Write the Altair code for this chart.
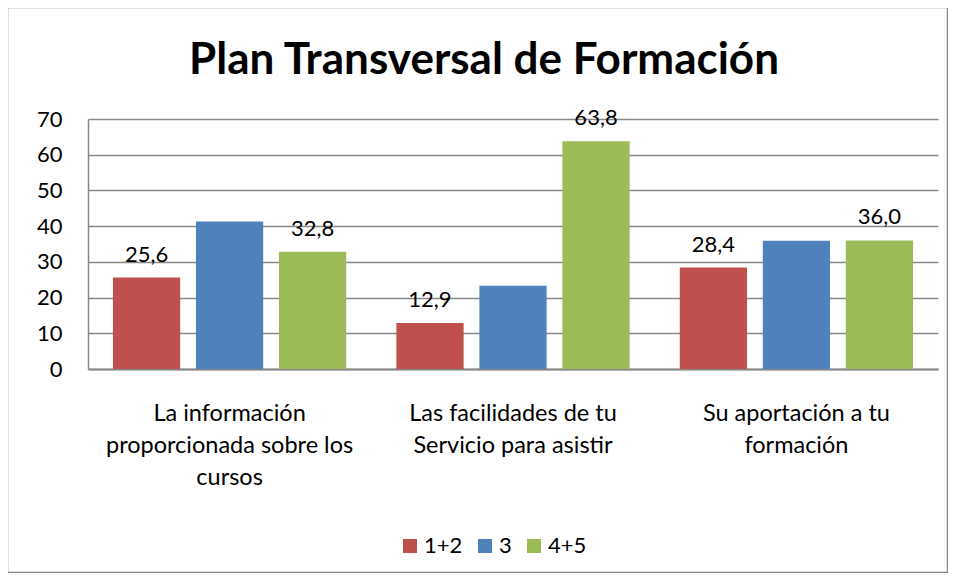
import altair as alt
import pandas as pd

title_text = "Plan Transversal de Formación"
categories = [
    "La información proporcionada sobre los cursos",
    "Las facilidades de tu Servicio para asistir",
    "Su aportación a tu formación",
]
label_lines = [
    ["La información", "proporcionada sobre los", "cursos"],
    ["Las facilidades de tu", "Servicio para asistir"],
    ["Su aportación a tu", "formación"],
]
series = ["1+2", "3", "4+5"]
values_12 = [25.6, 12.9, 28.4]
values_3 = [41.3, 23.3, 35.9]
values_45 = [32.8, 63.8, 36.0]
colors = ["#C0504D", "#4F81BD", "#9BBB59"]

rows = []
for s, vals in zip(series, [values_12, values_3, values_45]):
    for c, v in zip(categories, vals):
        rows.append({"categoria": c, "serie": s, "valor": v})
df = pd.DataFrame(rows)

# multi-line axis labels
expr = "''"
for c, lines in reversed(list(zip(categories, label_lines))):
    arr = "[" + ",".join("'" + l + "'" for l in lines) + "]"
    expr = f"datum.label == '{c}' ? {arr} : ({expr})"

FONT = "Lato"

x = alt.X(
    "categoria:N",
    sort=categories,
    title=None,
    scale=alt.Scale(paddingInner=0.177, paddingOuter=0.088),
    axis=alt.Axis(
        labelAngle=0,
        labelExpr=expr,
        labelFont=FONT,
        labelFontSize=23.5,
        labelColor="#000000",
        labelLineHeight=32,
        labelPadding=44,
        labelBaseline="middle",
        labelLimit=0,
        ticks=False,
        domainColor="#888888",
        domainWidth=2,
        grid=False,
    ),
)
xo = alt.XOffset("serie:N", sort=series, scale=alt.Scale(paddingInner=0.19, paddingOuter=0))
y = alt.Y(
    "valor:Q",
    title=None,
    scale=alt.Scale(domain=[0, 70], nice=False),
    axis=alt.Axis(
        values=[0, 10, 20, 30, 40, 50, 60, 70],
        labelFont=FONT,
        labelFontSize=22,
        labelColor="#000000",
        labelPadding=26,
        ticks=False,
        domainColor="#888888",
        domainWidth=1.5,
        gridColor="#888888",
        gridWidth=1.5,
    ),
)

bars = alt.Chart(df).mark_bar().encode(
    x=x,
    xOffset=xo,
    y=y,
    color=alt.Color(
        "serie:N",
        sort=series,
        scale=alt.Scale(domain=series, range=colors),
        legend=alt.Legend(
            title=None,
            orient="none",
            legendX=311,
            legendY=416,
            direction="horizontal",
            symbolType="square",
            symbolSize=196,
            symbolStrokeWidth=0,
            symbolOpacity=1,
            labelFont=FONT,
            labelFontSize=22,
            labelColor="#000000",
            labelOffset=3,
            columnPadding=11,
            padding=0,
        ),
    ),
)

labels = (
    alt.Chart(df)
    .transform_filter("datum.serie != '3'")
    .transform_calculate(txt="replace(format(datum.valor, '.1f'), '.', ',')")
    .mark_text(font=FONT, fontSize=22, color="#000000", baseline="alphabetic", dy=-16)
    .encode(x=x, xOffset=xo, y=y, text="txt:N")
)

title = alt.Chart(pd.DataFrame({"t": [title_text]})).mark_text(
    font=FONT, fontSize=44, fontWeight="bold", color="#000000",
    align="center", baseline="alphabetic", clip=False
).encode(x=alt.value(396), y=alt.value(-45), text="t:N")

frame = alt.Chart(pd.DataFrame({"a": [0]})).mark_rect(
    fill=None, stroke="#888888", strokeWidth=1.5, clip=False
).encode(
    x=alt.value(-80.5), x2=alt.value(859.5), y=alt.value(-111.5), y2=alt.value(453.5)
)

chart = (
    alt.layer(bars, labels, title, frame)
    .properties(
        width=850,
        height=250,
        padding={"left": 80, "top": 111, "right": 10, "bottom": 204},
        autosize=alt.AutoSizeParams(type="none"),
        background="white",
    )
    .configure_view(stroke=None)
)

chart.save("out.html", embed_options={"renderer": "svg", "actions": False})
